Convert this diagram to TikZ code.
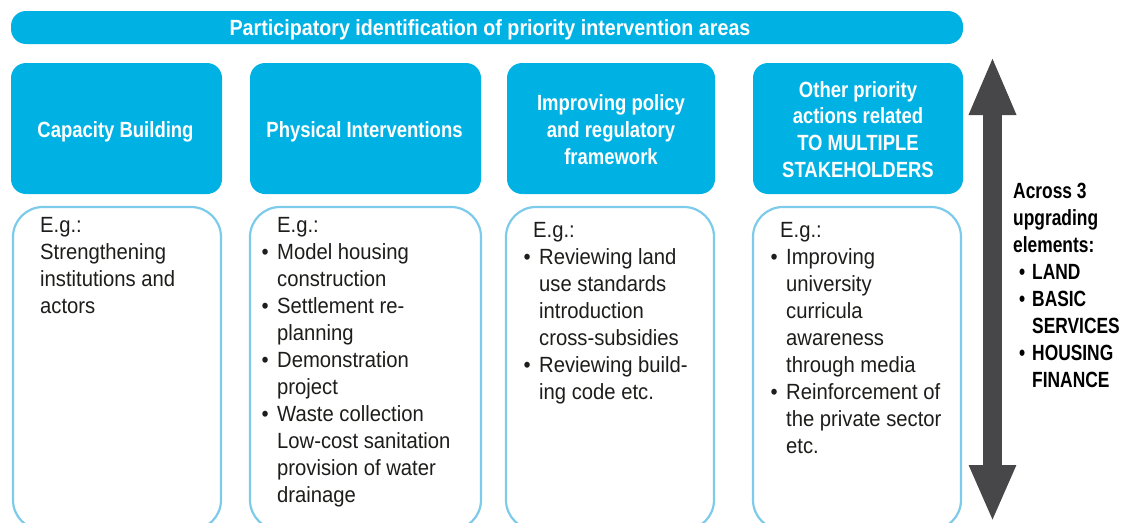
\documentclass[tikz,border=0pt]{standalone}
\usepackage{fontspec}
\setmainfont{Liberation Sans}[FakeStretch=0.92]
\newfontfamily\hfont{Liberation Sans}[FakeStretch=0.84]
\newfontfamily\sfont{Liberation Sans}[FakeStretch=0.79]
\newfontfamily\barfont{Liberation Sans}[FakeStretch=0.895]
\usetikzlibrary{arrows.meta}
\definecolor{cyanbox}{RGB}{0,178,227}
\definecolor{lightline}{RGB}{125,203,235}
\definecolor{darkarrow}{RGB}{71,71,73}
\definecolor{bodytext}{RGB}{29,29,27}
\tikzset{
  hdrbox/.style={fill=cyanbox, draw=none, rounded corners=15pt, inner sep=0pt, minimum height=131pt},
  hdrtext/.style={text=white, align=center, inner sep=0pt, font=\hfont\bfseries\fontsize{22}{26.8}\selectfont},
  bodybox/.style={draw=lightline, line width=2.2pt, fill=white, rounded corners=30pt, inner sep=0pt, minimum height=323pt, minimum width=208pt},
  bodytxt/.style={text=bodytext, align=left, anchor=north west, inner sep=0pt, font=\fontsize{22}{27}\selectfont},
  sidetxt/.style={text=black, align=left, anchor=north west, inner sep=0pt, font=\sfont\bfseries\fontsize{22}{27}\selectfont},
  bigarrow/.style={draw=darkarrow, fill=darkarrow, line width=19pt,
    {Triangle[width=43pt,length=59pt]}-{Triangle[width=43pt,length=57pt]}}
}
\newcommand{\itm}{\llap{\textbullet\hspace{8.5pt}}}
\begin{document}
\begin{tikzpicture}[x=1pt,y=-1pt]
\useasboundingbox (0,0) rectangle (1123,522);
\clip (0,0) rectangle (1123,522);
% top bar
\node[fill=cyanbox, rounded corners=15pt, inner sep=0pt, minimum width=952pt, minimum height=33pt] (bar) at (487,27.5) {};
\node[hdrtext, font=\barfont\bfseries\fontsize{22}{26.8}\selectfont] (bartext) at (490,30.3) {Participatory identification of priority intervention areas};
% header boxes
\node[hdrbox, minimum width=211pt] (h1) at (116.5,128.5) {};
\node[hdrbox, minimum width=231pt] (h2) at (365.5,128.5) {};
\node[hdrbox, minimum width=208pt] (h3) at (611,128.5) {};
\node[hdrbox, minimum width=210pt] (h4) at (858,128.5) {};
\node[hdrtext] (t1) at (115.5,131.5) {Capacity Building};
\node[hdrtext] (t2) at (364.5,131.5) {Physical Interventions};
\node[hdrtext] (t3) at (611,129.5) {Improving policy\\and regulatory\\framework};
\node[hdrtext] (t4) at (858,129.5) {Other priority\\actions related\\TO MULTIPLE\\STAKEHOLDERS};
% body boxes
\node[bodybox] (b1) at (117,368.5) {};
\node[bodybox, minimum width=231pt] (b2) at (365.5,368.5) {};
\node[bodybox] (b3) at (610,368.5) {};
\node[bodybox] (b4) at (857,368.5) {};
\node[bodytxt] (e1) at (40,213.6) {\strut E.g.:\\Strengthening\\institutions and\\actors};
\node[bodytxt] (e2) at (277,213.6) {\strut E.g.:\\\itm Model housing\\construction\\\itm Settlement re-\\planning\\\itm Demonstration\\project\\\itm Waste collection\\Low-cost sanitation\\provision of water\\drainage};
\node[bodytxt] (e3) at (539,218.6) {\strut\hspace*{-6pt}E.g.:\\\itm Reviewing land\\use standards\\introduction\\cross-subsidies\\\itm Reviewing build-\\ing code etc.};
\node[bodytxt] (e4) at (786,218.6) {\strut\hspace*{-6pt}E.g.:\\\itm Improving\\university\\curricula\\awareness\\through media\\\itm Reinforcement of\\the private sector\\etc.};
% arrow
\coordinate (atop) at (992.5,56);
\coordinate (abot) at (992.5,522);
\draw[bigarrow] (atop) -- (abot);
\node[sidetxt] (side) at (1013,179.5) {\strut Across 3\\upgrading\\elements:\\\hspace*{19pt}\llap{\textbullet\hspace{7pt}}LAND\\\hspace*{19pt}\llap{\textbullet\hspace{7pt}}BASIC\\\hspace*{19pt}SERVICES\\\hspace*{19pt}\llap{\textbullet\hspace{7pt}}HOUSING\\\hspace*{19pt}FINANCE};
\end{tikzpicture}
\end{document}
